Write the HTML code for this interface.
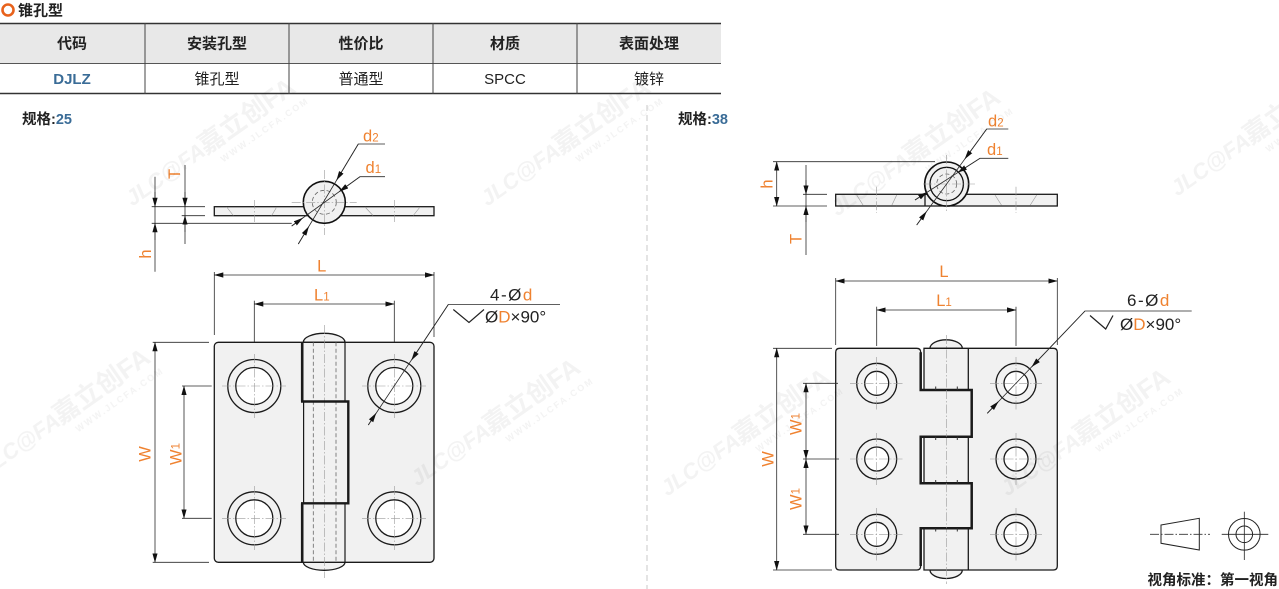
<!DOCTYPE html>
<html><head><meta charset="utf-8"><style>
html,body{margin:0;padding:0;background:#fff;}
svg{display:block;}
</style></head><body>
<svg xmlns="http://www.w3.org/2000/svg" width="1279" height="589" viewBox="0 0 1279 589" font-family="'Liberation Sans','Noto Sans CJK SC',sans-serif">
<defs>
<marker id="a" viewBox="-9 -3 9.5 6" refX="0" refY="0" markerWidth="9.5" markerHeight="6" markerUnits="userSpaceOnUse" orient="auto-start-reverse"><path d="M0.5,0 L-9,-2.6 L-9,2.6 Z" fill="#111"/></marker>
<style>
.o{stroke:#1a1a1a;stroke-width:1.3;fill:none}
.f{stroke:#1a1a1a;stroke-width:1.3;fill:#f1f1f1}
.dm{stroke:#2a2a2a;stroke-width:.8;fill:none}
.cl{stroke:#9a9a9a;stroke-width:.6;stroke-dasharray:9 2 1.5 2;fill:none}
.hd{stroke:#666;stroke-width:.8;stroke-dasharray:4 2.5;fill:none}
.ht{stroke:#999;stroke-width:.6;fill:none}
.lb{fill:#ef8230;font-size:16.5px}
.bk{fill:#222;font-size:17px}
</style>
</defs>

<!-- title -->
<circle cx="8" cy="10" r="5.5" fill="none" stroke="#e8621c" stroke-width="2.6"/>
<text x="18" y="15.5" font-size="15" font-weight="bold" fill="#222">锥孔型</text>

<!-- table -->
<rect x="0" y="23" width="721" height="40" fill="#e8e8e8"/>
<line x1="0" y1="23.5" x2="721" y2="23.5" stroke="#333" stroke-width="1.5"/>
<line x1="0" y1="63.5" x2="721" y2="63.5" stroke="#555" stroke-width="1"/>
<line x1="0" y1="93.5" x2="721" y2="93.5" stroke="#333" stroke-width="1.6"/>
<g stroke="#444" stroke-width="1">
<line x1="145" y1="23" x2="145" y2="94"/><line x1="289" y1="23" x2="289" y2="94"/>
<line x1="433" y1="23" x2="433" y2="94"/><line x1="577" y1="23" x2="577" y2="94"/>
</g>
<g font-size="15" font-weight="bold" fill="#222" text-anchor="middle">
<text x="72" y="48.5">代码</text><text x="217" y="48.5">安装孔型</text><text x="361" y="48.5">性价比</text><text x="505" y="48.5">材质</text><text x="649" y="48.5">表面处理</text>
</g>
<g font-size="15" fill="#222" text-anchor="middle">
<text x="72" y="84" font-weight="bold" fill="#3a6c97">DJLZ</text><text x="217" y="84">锥孔型</text><text x="361" y="84">普通型</text><text x="505" y="84">SPCC</text><text x="649" y="84">镀锌</text>
</g>

<text x="22" y="124" font-size="14.5" font-weight="bold" fill="#222">规格:<tspan fill="#3a6c97">25</tspan></text>
<text x="678" y="124" font-size="14.5" font-weight="bold" fill="#222">规格:<tspan fill="#3a6c97">38</tspan></text>

<line x1="647" y1="105" x2="647" y2="589" stroke="#c8c8c8" stroke-width="1" stroke-dasharray="6 4"/>

<!-- ================= LEFT TOP VIEW ================= -->
<rect x="214.3" y="206.7" width="219.7" height="9" class="f" stroke-width="1.2"/>
<g class="ht">
<line x1="226.7" y1="207" x2="233.3" y2="215.5"/><line x1="276.7" y1="207" x2="271.7" y2="215.5"/>
<line x1="365" y1="207" x2="373" y2="215.5"/><line x1="420" y1="207" x2="413.3" y2="215.5"/>
</g>
<line x1="254.3" y1="200" x2="254.3" y2="222" class="cl"/>
<line x1="394.3" y1="200" x2="394.3" y2="222" class="cl"/>
<circle cx="324.3" cy="202.3" r="21" fill="#f1f1f1" stroke="#111" stroke-width="1.6"/>
<circle cx="324.3" cy="202.3" r="12" class="hd"/>
<line x1="324.3" y1="170" x2="324.3" y2="235" class="cl"/>
<line x1="291.7" y1="202.3" x2="356.7" y2="202.3" class="cl"/>

<!-- T / h dims left -->
<g class="dm">
<line x1="151.7" y1="206.7" x2="205" y2="206.7"/>
<line x1="181.7" y1="215.7" x2="205" y2="215.7"/>
<line x1="151.7" y1="223.3" x2="291.7" y2="223.3"/>
<line x1="185" y1="165" x2="185" y2="244"/>
<line x1="185" y1="192" x2="185" y2="206.7" marker-end="url(#a)"/>
<line x1="185" y1="232" x2="185" y2="215.7" marker-end="url(#a)"/>
<line x1="155" y1="176.7" x2="155" y2="271.7"/>
<line x1="155" y1="192" x2="155" y2="206.7" marker-end="url(#a)"/>
<line x1="155" y1="240" x2="155" y2="223.3" marker-end="url(#a)"/>
<polyline points="385,144 358.3,144 298.3,244"/>
<line x1="358.3" y1="144" x2="336.7" y2="180" marker-end="url(#a)"/>
<line x1="298.3" y1="244" x2="308.7" y2="226.7" marker-end="url(#a)"/>
<polyline points="385,176.7 360,176.7 291.7,226"/>
<line x1="360" y1="176.7" x2="339.5" y2="191.5" marker-end="url(#a)"/>
<line x1="291.7" y1="226" x2="302.6" y2="218.1" marker-end="url(#a)"/>
</g>
<text class="lb" transform="translate(175,174) rotate(-90)" text-anchor="middle" dominant-baseline="central">T</text>
<text class="lb" transform="translate(146,254) rotate(-90)" text-anchor="middle" dominant-baseline="central">h</text>
<text class="lb" x="363" y="141.5">d<tspan font-size="11.5">2</tspan></text>
<text class="lb" x="365.5" y="173">d<tspan font-size="11.5">1</tspan></text>

<!-- ================= LEFT MAIN VIEW ================= -->
<path d="M303.3,342.3 A20.85,9 0 0 1 345,342.3 Z" class="f"/>
<path d="M303.3,562.3 A20.85,8 0 0 0 345,562.3 Z" class="f"/>
<rect x="214.3" y="342.3" width="219.7" height="220" rx="4" class="f"/>
<line x1="313.3" y1="342.3" x2="313.3" y2="562.3" class="hd"/>
<line x1="336" y1="342.3" x2="336" y2="562.3" class="hd"/>
<line x1="324.3" y1="325" x2="324.3" y2="578" class="cl"/>
<g stroke="#1a1a1a" fill="none">
<line x1="302.2" y1="342.3" x2="302.2" y2="401.5" stroke-width="2.6"/>
<line x1="302.2" y1="503.3" x2="302.2" y2="562.3" stroke-width="2.6"/>
<path d="M301,401.5 H348.3 V503.3 H301" stroke-width="2.4"/>
<line x1="303.6" y1="401.5" x2="303.6" y2="503.3" stroke-width="1.2"/>
<line x1="345" y1="342.3" x2="345" y2="401.5" stroke-width="1.2"/>
<line x1="345" y1="503.3" x2="345" y2="562.3" stroke-width="1.2"/>
</g>
<!-- holes -->
<g>
<circle cx="254.3" cy="386" r="26.5" class="o"/><circle cx="254.3" cy="386" r="18.5" fill="#fff" stroke="#1a1a1a" stroke-width="1.3"/>
<circle cx="394.3" cy="386" r="26.5" class="o"/><circle cx="394.3" cy="386" r="18.5" fill="#fff" stroke="#1a1a1a" stroke-width="1.3"/>
<circle cx="254.3" cy="518.3" r="26.5" class="o"/><circle cx="254.3" cy="518.3" r="18.5" fill="#fff" stroke="#1a1a1a" stroke-width="1.3"/>
<circle cx="394.3" cy="518.3" r="26.5" class="o"/><circle cx="394.3" cy="518.3" r="18.5" fill="#fff" stroke="#1a1a1a" stroke-width="1.3"/>
</g>
<g class="cl">
<line x1="222" y1="386" x2="286" y2="386"/><line x1="254.3" y1="354" x2="254.3" y2="418"/>
<line x1="362" y1="386" x2="426" y2="386"/><line x1="394.3" y1="354" x2="394.3" y2="418"/>
<line x1="222" y1="518.3" x2="286" y2="518.3"/><line x1="254.3" y1="486" x2="254.3" y2="550"/>
<line x1="362" y1="518.3" x2="426" y2="518.3"/><line x1="394.3" y1="486" x2="394.3" y2="550"/>
</g>
<!-- dims -->
<g class="dm">
<line x1="214.3" y1="272" x2="214.3" y2="335"/><line x1="434" y1="272" x2="434" y2="337"/>
<line x1="214.3" y1="275" x2="434" y2="275" marker-start="url(#a)" marker-end="url(#a)"/>
<line x1="254.3" y1="300.7" x2="254.3" y2="342"/><line x1="394.3" y1="300.7" x2="394.3" y2="342"/>
<line x1="254.3" y1="304" x2="394.3" y2="304" marker-start="url(#a)" marker-end="url(#a)"/>
<line x1="152.7" y1="342.3" x2="209" y2="342.3"/><line x1="152.7" y1="562.3" x2="209" y2="562.3"/>
<line x1="155" y1="342.3" x2="155" y2="562.3" marker-start="url(#a)" marker-end="url(#a)"/>
<line x1="182" y1="386" x2="211.7" y2="386"/><line x1="182" y1="518.3" x2="211.7" y2="518.3"/>
<line x1="184" y1="386" x2="184" y2="518.3" marker-start="url(#a)" marker-end="url(#a)"/>
<polyline points="560,304.5 448.3,304.5 368.3,425"/>
<line x1="448.3" y1="304.5" x2="411.6" y2="360" marker-end="url(#a)"/>
<line x1="368.3" y1="425" x2="376" y2="413.3" marker-end="url(#a)"/>
<polyline points="453.3,309.5 469,322.5 484,309.5" stroke="#222" stroke-width="1.2"/>
</g>
<text class="lb" x="321.7" y="271.5" text-anchor="middle">L</text>
<text class="lb" x="321.8" y="300.5" text-anchor="middle">L<tspan font-size="11.5">1</tspan></text>
<text class="lb" transform="translate(145.5,454) rotate(-90)" text-anchor="middle" dominant-baseline="central">W</text>
<text class="lb" transform="translate(176.3,454) rotate(-90)" text-anchor="middle" dominant-baseline="central">W<tspan font-size="11.5">1</tspan></text>
<text class="bk" x="490" y="300.5" letter-spacing="1.5">4-Ø<tspan fill="#ef8230">d</tspan></text>
<text class="bk" x="485" y="322.7">Ø<tspan fill="#ef8230">D</tspan>×90°</text>

<!-- ================= RIGHT TOP VIEW ================= -->
<rect x="835.7" y="194.3" width="221.6" height="11.7" class="f" stroke-width="1.2"/>
<g class="ht">
<line x1="856.7" y1="195" x2="863.3" y2="205.5"/><line x1="896.7" y1="195" x2="891.7" y2="205.5"/>
<line x1="995" y1="195" x2="1001.7" y2="205.5"/><line x1="1036.7" y1="195" x2="1030" y2="205.5"/>
</g>
<line x1="876.7" y1="186.7" x2="876.7" y2="213" class="cl"/>
<line x1="1016" y1="186.7" x2="1016" y2="213" class="cl"/>
<line x1="925" y1="194.3" x2="925" y2="206" class="o" stroke-width="1"/>
<circle cx="946.7" cy="184" r="22" fill="#f1f1f1" stroke="#111" stroke-width="1.6"/>
<circle cx="946.7" cy="184" r="16.7" fill="none" stroke="#111" stroke-width="1.3"/>
<circle cx="946.7" cy="184" r="10" class="hd"/>
<line x1="946.7" y1="155" x2="946.7" y2="213" class="cl"/>
<line x1="923" y1="184" x2="975" y2="184" class="cl"/>
<g class="dm">
<line x1="773" y1="161.7" x2="935" y2="161.7"/>
<line x1="773" y1="206" x2="827" y2="206"/>
<line x1="803" y1="194.3" x2="827" y2="194.3"/>
<line x1="776.7" y1="161.7" x2="776.7" y2="206" marker-start="url(#a)" marker-end="url(#a)"/>
<line x1="806" y1="165" x2="806" y2="255"/>
<line x1="806" y1="180" x2="806" y2="194.3" marker-end="url(#a)"/>
<line x1="806" y1="222" x2="806" y2="206" marker-end="url(#a)"/>
<polyline points="1008.3,129 986.7,129 916.7,225"/>
<line x1="986.7" y1="129" x2="964.9" y2="158.9" marker-end="url(#a)"/>
<line x1="916.7" y1="225" x2="926.4" y2="211.7" marker-end="url(#a)"/>
<polyline points="1008.3,158.3 980,158.3 915,200"/>
<line x1="980" y1="158.3" x2="958" y2="172.4" marker-end="url(#a)"/>
<line x1="915" y1="200" x2="927" y2="192.3" marker-end="url(#a)"/>
</g>
<text class="lb" transform="translate(767.5,184) rotate(-90)" text-anchor="middle" dominant-baseline="central">h</text>
<text class="lb" transform="translate(796.7,239) rotate(-90)" text-anchor="middle" dominant-baseline="central">T</text>
<text class="lb" x="988" y="126.5">d<tspan font-size="11.5">2</tspan></text>
<text class="lb" x="987" y="155">d<tspan font-size="11.5">1</tspan></text>

<!-- ================= RIGHT MAIN VIEW ================= -->
<path d="M930,348.3 A16.15,8.5 0 0 1 962.3,348.3 Z" class="f"/>
<path d="M930,570 A16.15,8.5 0 0 0 962.3,570 Z" class="f"/>
<path d="M924,348.3 H1053.3 Q1057.3,348.3 1057.3,352.3 V566 Q1057.3,570 1053.3,570 H924 Z" class="f"/>
<line x1="968.3" y1="348.3" x2="968.3" y2="570" class="o"/>
<line x1="946.7" y1="335" x2="946.7" y2="584" class="cl"/>
<path d="M839.7,348.3 H916.7 Q920.7,348.3 920.7,352.3 V390 H971.7 V436.7 H920.7 V483.3 H971.7 V528.3 H920.7 V566 Q920.7,570 916.7,570 H839.7 Q835.7,570 835.7,566 V352.3 Q835.7,348.3 839.7,348.3 Z" class="f"/>
<path d="M920.7,352.3 V390 H971.7 V436.7 H920.7 V483.3 H971.7 V528.3 H920.7 V566" stroke="#1a1a1a" stroke-width="2.5" fill="none"/>
<line x1="946.7" y1="390" x2="946.7" y2="436.7" class="cl"/>
<line x1="946.7" y1="483.3" x2="946.7" y2="528.3" class="cl"/>
<g stroke="#333" stroke-width="1">
<line x1="935.7" y1="386.5" x2="935.7" y2="390"/><line x1="957.3" y1="386.5" x2="957.3" y2="390"/>
<line x1="935.7" y1="436.7" x2="935.7" y2="440"/><line x1="957.3" y1="436.7" x2="957.3" y2="440"/>
<line x1="935.7" y1="480" x2="935.7" y2="483.3"/><line x1="957.3" y1="480" x2="957.3" y2="483.3"/>
<line x1="935.7" y1="528.3" x2="935.7" y2="531.5"/><line x1="957.3" y1="528.3" x2="957.3" y2="531.5"/>
</g>
<g>
<circle cx="876.7" cy="383.3" r="20" class="o"/><circle cx="876.7" cy="383.3" r="12" fill="#fff" stroke="#1a1a1a" stroke-width="1.3"/>
<circle cx="876.7" cy="459" r="20" class="o"/><circle cx="876.7" cy="459" r="12" fill="#fff" stroke="#1a1a1a" stroke-width="1.3"/>
<circle cx="876.7" cy="534.3" r="20" class="o"/><circle cx="876.7" cy="534.3" r="12" fill="#fff" stroke="#1a1a1a" stroke-width="1.3"/>
<circle cx="1016" cy="383.3" r="20" class="o"/><circle cx="1016" cy="383.3" r="12" fill="#fff" stroke="#1a1a1a" stroke-width="1.3"/>
<circle cx="1016" cy="459" r="20" class="o"/><circle cx="1016" cy="459" r="12" fill="#fff" stroke="#1a1a1a" stroke-width="1.3"/>
<circle cx="1016" cy="534.3" r="20" class="o"/><circle cx="1016" cy="534.3" r="12" fill="#fff" stroke="#1a1a1a" stroke-width="1.3"/>
</g>
<g class="cl">
<line x1="850" y1="383.3" x2="903" y2="383.3"/><line x1="876.7" y1="357" x2="876.7" y2="410"/>
<line x1="850" y1="459" x2="903" y2="459"/><line x1="876.7" y1="433" x2="876.7" y2="485"/>
<line x1="850" y1="534.3" x2="903" y2="534.3"/><line x1="876.7" y1="508" x2="876.7" y2="561"/>
<line x1="990" y1="383.3" x2="1042" y2="383.3"/><line x1="1016" y1="357" x2="1016" y2="410"/>
<line x1="990" y1="459" x2="1042" y2="459"/><line x1="1016" y1="433" x2="1016" y2="485"/>
<line x1="990" y1="534.3" x2="1042" y2="534.3"/><line x1="1016" y1="508" x2="1016" y2="561"/>
</g>
<g class="dm">
<line x1="835.7" y1="278" x2="835.7" y2="345"/><line x1="1057.3" y1="278" x2="1057.3" y2="345"/>
<line x1="835.7" y1="281" x2="1057.3" y2="281" marker-start="url(#a)" marker-end="url(#a)"/>
<line x1="876.7" y1="306.7" x2="876.7" y2="346"/><line x1="1016" y1="306.7" x2="1016" y2="346"/>
<line x1="876.7" y1="310" x2="1016" y2="310" marker-start="url(#a)" marker-end="url(#a)"/>
<line x1="773" y1="348.3" x2="832" y2="348.3"/><line x1="773" y1="570" x2="832" y2="570"/>
<line x1="776.7" y1="348.3" x2="776.7" y2="570" marker-start="url(#a)" marker-end="url(#a)"/>
<line x1="803" y1="383.3" x2="838" y2="383.3"/><line x1="803" y1="459" x2="839" y2="459"/><line x1="803" y1="534.3" x2="839" y2="534.3"/>
<line x1="806" y1="383.3" x2="806" y2="459" marker-start="url(#a)" marker-end="url(#a)"/>
<line x1="806" y1="459" x2="806" y2="534.3" marker-start="url(#a)" marker-end="url(#a)"/>
<polyline points="1191.7,311 1085,311 987.3,413.3"/>
<line x1="1085" y1="311" x2="1031.9" y2="366.7" marker-end="url(#a)"/>
<line x1="987.3" y1="413.3" x2="998.3" y2="401.7" marker-end="url(#a)"/>
<polyline points="1090,315.5 1105.7,329 1113,315.5" stroke="#222" stroke-width="1.2"/>
</g>
<text class="lb" x="944" y="277" text-anchor="middle">L</text>
<text class="lb" x="944" y="306" text-anchor="middle">L<tspan font-size="11.5">1</tspan></text>
<text class="lb" transform="translate(768.3,459) rotate(-90)" text-anchor="middle" dominant-baseline="central">W</text>
<text class="lb" transform="translate(796.7,424) rotate(-90)" text-anchor="middle" dominant-baseline="central">W<tspan font-size="11.5">1</tspan></text>
<text class="lb" transform="translate(796.7,499) rotate(-90)" text-anchor="middle" dominant-baseline="central">W<tspan font-size="11.5">1</tspan></text>
<text class="bk" x="1127" y="306" letter-spacing="1.5">6-Ø<tspan fill="#ef8230">d</tspan></text>
<text class="bk" x="1120" y="330">Ø<tspan fill="#ef8230">D</tspan>×90°</text>

<!-- viewing angle symbol -->
<polygon points="1161,525 1199.3,518.3 1199.3,550 1161,543.3" fill="none" stroke="#222" stroke-width="1"/>
<line x1="1150" y1="534.3" x2="1210" y2="534.3" stroke="#333" stroke-width=".8" stroke-dasharray="9 2 1.5 2"/>
<circle cx="1244.3" cy="534.3" r="15.8" fill="none" stroke="#222" stroke-width="1"/>
<circle cx="1244.3" cy="534.3" r="8.3" fill="none" stroke="#222" stroke-width="1"/>
<line x1="1244.3" y1="511.7" x2="1244.3" y2="560" stroke="#222" stroke-width=".8"/>
<line x1="1221.7" y1="534.3" x2="1268.3" y2="534.3" stroke="#222" stroke-width=".8"/>
<text x="1278" y="585" font-size="14.5" font-weight="bold" fill="#222" text-anchor="end">视角标准：第一视角</text>

<!-- watermarks -->
<g style="mix-blend-mode:multiply" fill="#f3f3f3" font-weight="bold">
<g transform="translate(185,160) rotate(-35)"><text x="-70" y="8" font-size="22" font-style="italic">JLC@FA</text><text x="20" y="8" font-size="26">嘉立创FA</text><text x="30" y="24" font-size="9" letter-spacing="2">WWW.JLCFA.COM</text></g>
<g transform="translate(470,440) rotate(-35)"><text x="-70" y="8" font-size="22" font-style="italic">JLC@FA</text><text x="20" y="8" font-size="26">嘉立创FA</text><text x="30" y="24" font-size="9" letter-spacing="2">WWW.JLCFA.COM</text></g>
<g transform="translate(40,430) rotate(-35)"><text x="-70" y="8" font-size="22" font-style="italic">JLC@FA</text><text x="20" y="8" font-size="26">嘉立创FA</text><text x="30" y="24" font-size="9" letter-spacing="2">WWW.JLCFA.COM</text></g>
<g transform="translate(540,160) rotate(-35)"><text x="-70" y="8" font-size="22" font-style="italic">JLC@FA</text><text x="20" y="8" font-size="26">嘉立创FA</text><text x="30" y="24" font-size="9" letter-spacing="2">WWW.JLCFA.COM</text></g>
<g transform="translate(890,170) rotate(-35)"><text x="-70" y="8" font-size="22" font-style="italic">JLC@FA</text><text x="20" y="8" font-size="26">嘉立创FA</text><text x="30" y="24" font-size="9" letter-spacing="2">WWW.JLCFA.COM</text></g>
<g transform="translate(720,450) rotate(-35)"><text x="-70" y="8" font-size="22" font-style="italic">JLC@FA</text><text x="20" y="8" font-size="26">嘉立创FA</text><text x="30" y="24" font-size="9" letter-spacing="2">WWW.JLCFA.COM</text></g>
<g transform="translate(1060,450) rotate(-35)"><text x="-70" y="8" font-size="22" font-style="italic">JLC@FA</text><text x="20" y="8" font-size="26">嘉立创FA</text><text x="30" y="24" font-size="9" letter-spacing="2">WWW.JLCFA.COM</text></g>
<g transform="translate(1230,150) rotate(-35)"><text x="-70" y="8" font-size="22" font-style="italic">JLC@FA</text><text x="20" y="8" font-size="26">嘉立创FA</text><text x="30" y="24" font-size="9" letter-spacing="2">WWW.JLCFA.COM</text></g>
</g>
</svg>
</body></html>
